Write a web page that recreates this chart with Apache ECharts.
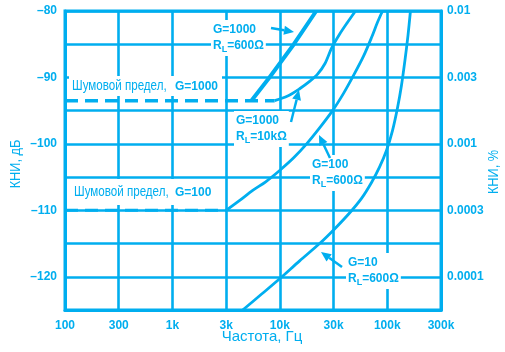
<!DOCTYPE html>
<html><head><meta charset="utf-8">
<script src="https://cdn.jsdelivr.net/npm/echarts@6/dist/echarts.min.js"></script>
<style>html,body{margin:0;padding:0;background:#fff}#c{width:505px;height:352px}</style>
</head><body><div id="c"></div>
<script>
// ---- data ----
const freqTickLabels = ['100','300','1k','3k','10k','30k','100k','300k'];
const pctTickDb = [-80,-90,-100,-110,-120];
const pctTickLabels = ['0.01','0.003','0.001','0.0003','0.0001'];

const g1000r600Freq = [5430, 8000, 13500, 21800];
const g1000r600Db   = [-93.5, -90, -85, -80];
const g1000r10kFreq = [8950, 11820, 15280, 18920, 22450, 26320, 30300, 35960, 42680, 50600];
const g1000r10kDb   = [-93.5, -92.8, -91.7, -90.6, -89.5, -87.9, -85.6, -83.5, -81.7, -80];
const g100Freq = [3162, 4230, 5590, 7380, 9960, 13440, 17750, 23440, 30950, 39160, 48520, 60090, 71340, 81090, 90240];
const g100Db   = [-110, -108.5, -107.0, -105.7, -104.0, -102.1, -100.0, -97.6, -95.0, -92.4, -89.7, -86.8, -84.0, -81.7, -80];
const g10Freq = [4510, 6770, 9960, 15280, 23440, 32310, 44530, 57570, 71340, 84640, 98300, 111800, 124400, 135500, 146100, 155800, 164300];
const g10Db   = [-125, -122.6, -120.3, -117.6, -115.0, -112.8, -110.4, -108.2, -105.8, -103.5, -101.0, -98.0, -94.6, -91.2, -87.4, -83.7, -80];
const noise1000Freq = [100, 8950];
const noise1000Db   = [-93.5, -93.5];
const noise100Freq = [100, 3162];
const noise100Db   = [-110, -110];

// ---- chart ----
const C = '#00aeef';
const pts = (f, d) => f.map((v, i) => [Math.log10(v), d[i]]);
const chart = echarts.init(document.getElementById('c'));

function curve(f, d, w, extra) {
  return Object.assign({
    type: 'line', data: pts(f, d), symbol: 'none', smooth: 0.3,
    lineStyle: { color: C, width: w }, z: 5, silent: true
  }, extra || {});
}

const FF = '"Liberation Sans", Arial, sans-serif';
const baseFont = 'bold 12px ' + FF;
const rich = {
  b: { font: baseFont, fill: C },
  s: { font: 'bold 9px ' + FF, fill: C, verticalAlign: 'bottom', lineHeight: 16, padding: [6,0,0,0] }
};
function label(x, y, text) {
  return { type: 'text', x: x, y: y, z: 20,
    style: { text: text, rich: rich, font: baseFont, fill: C, lineHeight: 16,
      backgroundColor: '#fff', padding: [2, 2, 2, 2], verticalAlign: 'top' } };
}
function noiseLabel(x, y, w, h, gText, gx) {
  return { type: 'group', z: 20, children: [
    { type: 'rect', shape: { x: x, y: y, width: w, height: h }, style: { fill: '#fff' }, z: 20 },
    { type: 'text', x: x + 3, y: y + h / 2, scaleX: 0.8, z: 21,
      style: { text: 'Шумовой предел,', font: '14.5px ' + FF, fill: C, verticalAlign: 'middle' } },
    { type: 'text', x: gx, y: y + h / 2 + 0.5, z: 21,
      style: { text: gText, font: baseFont, fill: C, verticalAlign: 'middle' } }
  ] };
}
function arrow(x1, y1, x2, y2) {
  const dx = x2 - x1, dy = y2 - y1, L = Math.hypot(dx, dy);
  const ux = dx / L, uy = dy / L, hl = 10, hw = 4.5;
  const bx = x2 - ux * hl, by = y2 - uy * hl;
  return [
    { type: 'line', z: 21, shape: { x1: x1, y1: y1, x2: bx, y2: by }, style: { stroke: C, lineWidth: 2.5 } },
    { type: 'polygon', z: 21, shape: { points: [[x2, y2], [bx - uy * hw, by + ux * hw], [bx + uy * hw, by - ux * hw]] }, style: { fill: C } }
  ];
}

const graphics = [
  label(211, 20, 'G=1000\n{b|R}{s|L}{b|=600Ω}'),
  noiseLabel(69, 76, 153, 20, 'G=1000', 175),
  label(234, 111, 'G=1000\n{b|R}{s|L}{b|=10kΩ}'),
  label(310, 155, 'G=100\n{b|R}{s|L}{b|=600Ω}'),
  noiseLabel(71, 179, 147, 26, 'G=100', 175),
  label(346, 253, 'G=10\n{b|R}{s|L}{b|=600Ω}'),
  { type: 'text', x: 262, y: 337, style: { text: 'Частота, Гц', font: '15px ' + FF, fill: C, align: 'center', verticalAlign: 'middle' } },
  { type: 'text', x: 16, y: 164, rotation: Math.PI / 2, scaleX: 0.85, style: { text: 'КНИ, дБ', font: '15px ' + FF, fill: C, align: 'center', verticalAlign: 'middle' } },
  { type: 'text', x: 494, y: 172, rotation: Math.PI / 2, scaleX: 0.85, style: { text: 'КНИ, %', font: '15px ' + FF, fill: C, align: 'center', verticalAlign: 'middle' } }
].concat(arrow(271, 28, 294, 32), arrow(291, 122, 299, 90), arrow(330, 158, 319, 135), arrow(342, 267, 321, 252));

chart.setOption({
  animation: false,
  grid: { left: 65, top: 11, width: 376, height: 299, show: true, borderColor: C, borderWidth: 3, backgroundColor: 'transparent' },
  xAxis: {
    type: 'value', min: 2, max: 5.5, interval: 0.5,
    axisLine: { show: true, lineStyle: { color: C, width: 3 } },
    axisTick: { show: false },
    axisLabel: { color: C, fontWeight: 'bold', fontSize: 12, fontFamily: 'Liberation Sans, Arial, sans-serif', margin: 10,
      formatter: v => freqTickLabels[Math.round((v - 2) / 0.5)] || '' },
    splitLine: { show: true, lineStyle: { color: C, width: 2.6 } }
  },
  yAxis: [{
    type: 'value', min: -125, max: -80, interval: 5, position: 'left',
    axisLine: { show: true, lineStyle: { color: C, width: 3 } },
    axisTick: { show: false },
    axisLabel: { color: C, fontWeight: 'bold', fontSize: 12, fontFamily: 'Liberation Sans, Arial, sans-serif', margin: 8,
      formatter: v => (v % 10 === 0 ? '\u2013' + (-v) : '') },
    splitLine: { show: true, lineStyle: { color: C, width: 2.6 } }
  }, {
    type: 'value', min: -125, max: -80, interval: 5, position: 'right',
    axisLine: { show: true, lineStyle: { color: C, width: 3 } },
    axisTick: { show: false },
    axisLabel: { color: C, fontWeight: 'bold', fontSize: 12, fontFamily: 'Liberation Sans, Arial, sans-serif', margin: 6,
      formatter: v => { const i = pctTickDb.indexOf(v); return i >= 0 ? pctTickLabels[i] : ''; } },
    splitLine: { show: false }
  }],
  series: [
    curve(noise1000Freq, noise1000Db, 3.5, { smooth: false, lineStyle: { color: C, width: 3.5, type: [13, 7] } }),
    curve(noise100Freq, noise100Db, 3, { smooth: false, lineStyle: { color: C, width: 3, type: [13, 7] } }),
    curve(g1000r600Freq, g1000r600Db, 4, { smooth: false }),
    curve(g1000r10kFreq, g1000r10kDb, 2.8),
    curve(g100Freq, g100Db, 2.8),
    curve(g10Freq, g10Db, 2.8)
  ],
  graphic: graphics
});
</script></body></html>
